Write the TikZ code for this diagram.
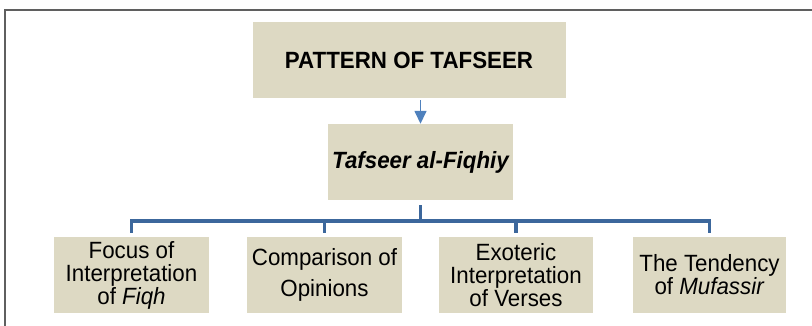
\documentclass[tikz,border=0pt]{standalone}
\usepackage{fontspec}
\setmainfont{Liberation Sans}[FakeStretch=0.95]
\usepackage{tikz}
\usepackage{xcolor}
\usetikzlibrary{arrows.meta}
\definecolor{boxtan}{RGB}{221,217,195}
\definecolor{barblue}{RGB}{60,103,156}
\definecolor{arrblue}{RGB}{79,129,189}
\definecolor{framegray}{RGB}{95,95,95}

\begin{document}
\begin{tikzpicture}[x=1pt,y=-1pt,
  tanbox/.style={fill=boxtan, inner sep=0pt, minimum height=76pt, align=center, font=\fontsize{23.5}{23}\selectfont},
  bracket/.style={draw=barblue, line width=3.5pt},
  downarrow/.style={draw=arrblue, line width=1.5pt, -{Triangle[width=12pt,length=13pt]}}]
\useasboundingbox (0,0) rectangle (812,326);
% frame of the figure
\draw[framegray, line width=1.5pt] (5,326) -- (5,10) -- (812,10);
% top boxes
\node[tanbox, minimum width=313pt, font=\fontsize{23.5}{23}\selectfont\bfseries] (pattern) at (409,60) {PATTERN OF TAFSEER};
\node[tanbox, minimum width=185pt, font=\fontsize{23.5}{23}\selectfont\bfseries\itshape] (fiqhiy) at (420.5,162) {Tafseer al-Fiqhiy};
% bottom row
\node[tanbox, minimum width=155pt] (focus) at (131.5,275) {Focus of\\Interpretation\\of \textit{Fiqh}};
\node[tanbox, minimum width=155pt, font=\fontsize{23.5}{31}\selectfont] (compare) at (324.5,275) {Comparison of\\Opinions};
\node[tanbox, minimum width=154pt] (exoteric) at (516,275) {Exoteric\\Interpretation\\of Verses};
\node[tanbox, minimum width=153pt] (tendency) at (709.5,275) {The Tendency\\of \textit{Mufassir}};
% connectors
\draw[downarrow, shorten <=2pt] (pattern.south -| fiqhiy.north) -- (fiqhiy.north);
\coordinate (bar) at (421,221);
\draw[bracket, shorten <=5pt] (fiqhiy.south) -- (fiqhiy.south |- bar);
\foreach \b in {focus,compare,exoteric,tendency}
  \draw[bracket, shorten <=4pt] (\b.north) |- (bar);
\end{tikzpicture}
\end{document}
